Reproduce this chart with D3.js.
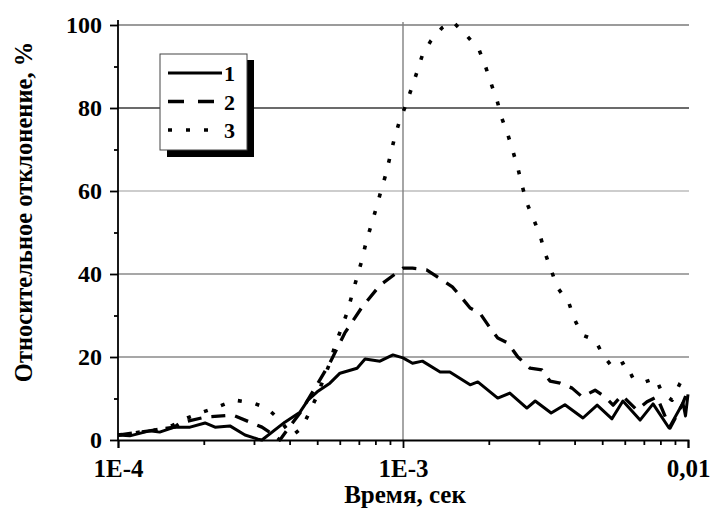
<!DOCTYPE html>
<html>
<head>
<meta charset="utf-8">
<script src="https://cdn.jsdelivr.net/npm/d3@7"></script>
<style>
  body { margin: 0; background: #fff; }
  text { font-family: "Liberation Serif", "Times New Roman", serif; font-weight: bold; fill: #000; }
</style>
</head>
<body>
<div id="chart"></div>
<script>
// Time (s) and relative deviation (%) for each curve
const time1 = [1.00e-4, 1.10e-4, 1.29e-4, 1.40e-4, 1.58e-4, 1.79e-4, 2.02e-4, 2.19e-4, 2.47e-4, 2.79e-4, 3.10e-4, 3.20e-4, 3.85e-4, 4.35e-4, 4.64e-4, 5.00e-4, 5.54e-4, 6.01e-4, 6.90e-4, 7.36e-4, 8.30e-4, 9.22e-4, 1.00e-3, 1.08e-3, 1.17e-3, 1.35e-3, 1.46e-3, 1.72e-3, 1.83e-3, 2.15e-3, 2.37e-3, 2.72e-3, 2.91e-3, 3.31e-3, 3.70e-3, 4.28e-3, 4.80e-3, 5.41e-3, 5.91e-3, 6.79e-3, 7.54e-3, 8.58e-3, 9.60e-3, 9.80e-3, 1.00e-2];
const dev1 = [1.2, 1.0, 2.2, 1.9, 3.1, 3.1, 4.1, 3.1, 3.4, 1.2, 0.2, 0, 4.3, 6.7, 9.6, 11.6, 13.7, 16.1, 17.3, 19.5, 19.0, 20.5, 19.8, 18.5, 19.0, 16.4, 16.4, 13.3, 14.0, 10.1, 11.3, 7.7, 9.4, 6.5, 8.5, 5.3, 8.4, 5.1, 9.4, 4.8, 8.7, 2.9, 8.9, 5.8, 11];

const time2 = [1.00e-4, 1.29e-4, 1.58e-4, 1.65e-4, 2.02e-4, 2.53e-4, 3.20e-4, 3.56e-4, 3.70e-4, 3.92e-4, 4.35e-4, 5.03e-4, 5.54e-4, 6.25e-4, 7.18e-4, 8.30e-4, 1.00e-3, 1.08e-3, 1.21e-3, 1.32e-3, 1.49e-3, 1.58e-3, 1.72e-3, 1.86e-3, 2.02e-3, 2.15e-3, 2.33e-3, 2.53e-3, 2.79e-3, 3.07e-3, 3.28e-3, 3.56e-3, 3.92e-3, 4.25e-3, 4.72e-3, 5.11e-3, 5.46e-3, 5.86e-3, 6.62e-3, 7.18e-3, 7.78e-3, 8.65e-3, 9.53e-3, 1.00e-2];
const dev2 = [1.2, 2.2, 3.1, 4.1, 5.5, 6.0, 3.1, 1.0, 0, 2.4, 6.5, 13.7, 18.6, 25.8, 32, 37.3, 41.4, 41.4, 41, 39.3, 36.9, 34.9, 31.8, 30.6, 27, 24.6, 23.4, 20, 17.3, 16.9, 14.2, 13.7, 12.5, 10.4, 12, 10.4, 8.4, 10.8, 7.2, 9.2, 10.4, 2.9, 8.4, 12];

const time3 = [1.00e-4, 1.29e-4, 1.49e-4, 1.72e-4, 1.94e-4, 2.24e-4, 2.57e-4, 2.98e-4, 3.33e-4, 3.70e-4, 4.08e-4, 4.42e-4, 4.68e-4, 4.99e-4, 5.54e-4, 5.77e-4, 6.06e-4, 6.36e-4, 6.62e-4, 6.90e-4, 7.18e-4, 7.41e-4, 7.72e-4, 8.04e-4, 8.37e-4, 8.71e-4, 9.00e-4, 9.30e-4, 9.68e-4, 1.02e-3, 1.07e-3, 1.12e-3, 1.17e-3, 1.25e-3, 1.37e-3, 1.50e-3, 1.68e-3, 1.85e-3, 1.95e-3, 2.04e-3, 2.14e-3, 2.22e-3, 2.33e-3, 2.43e-3, 2.53e-3, 2.62e-3, 2.72e-3, 2.88e-3, 3.03e-3, 3.15e-3, 3.31e-3, 3.47e-3, 3.82e-3, 4.01e-3, 4.25e-3, 4.72e-3, 5.03e-3, 5.46e-3, 6.01e-3, 6.41e-3, 7.06e-3, 7.72e-3, 8.11e-3, 8.79e-3, 9.38e-3, 1.00e-2];
const dev3 = [1.2, 2.2, 2.9, 5.1, 6.5, 8.0, 9.6, 8.9, 7.7, 4.8, 1.0, 2.9, 6.5, 10.6, 18.6, 22.7, 26.7, 30.6, 34.9, 39.3, 43.4, 47.5, 51.6, 55.7, 60, 64.1, 68.2, 72.3, 76.4, 80.5, 84.6, 88.7, 92.8, 96.1, 99.3, 100.7, 97.3, 94, 89.9, 85.8, 81.7, 77.6, 73.7, 69.6, 65.5, 61.2, 57.1, 53, 49.2, 45.1, 41, 36.9, 33, 28.9, 25.3, 24.1, 20.5, 17.3, 18.8, 14.9, 14, 14.9, 11.3, 9.6, 13.7, 16.1];

const seriesNames = ["1", "2", "3"];
const yTicks = [0, 20, 40, 60, 80, 100];
const yMinorTicks = [10, 30, 50, 70, 90];
const xTicks = [1e-4, 1e-3, 1e-2];
const xTickLabels = ["1E-4", "1E-3", "0,01"];
const xTitle = "Время, сек";
const yTitle = "Относительное отклонение, %";

// minor ticks 2..9 of each decade
const xMinorTicks = [1e-4, 1e-3].flatMap(d => [2, 3, 4, 5, 6, 7, 8, 9].map(k => k * d));

const series = [
  { name: seriesNames[0], values: time1.map((t, i) => [t, dev1[i]]) },
  { name: seriesNames[1], values: time2.map((t, i) => [t, dev2[i]]) },
  { name: seriesNames[2], values: time3.map((t, i) => [t, dev3[i]]) }
];
const lineStyles = [
  { dash: null, width: 3 },
  { dash: "14,10", width: 3.3 },
  { dash: "4,14", width: 3.6 }
];

const width = 711, height = 512;
const margin = { top: 25, right: 23, bottom: 72, left: 118 };
const plotW = width - margin.left - margin.right;
const plotH = height - margin.top - margin.bottom;

const svg = d3.select("#chart").append("svg")
  .attr("width", width)
  .attr("height", height);

const g = svg.append("g")
  .attr("transform", "translate(" + margin.left + "," + margin.top + ")");

const x = d3.scaleLog().domain([1e-4, 1e-2]).range([0, plotW]);
const y = d3.scaleLinear().domain([0, 100]).range([plotH, 0]);

// gridlines
const gridColor = { 20: "#8a8a8a", 40: "#8a8a8a", 60: "#bdbdbd", 80: "#3a3a3a", 100: "#7a7a7a" };
g.selectAll(".hgrid")
  .data(yTicks.filter(v => v > 0))
  .enter().append("line")
  .attr("x1", 0).attr("x2", plotW + 1)
  .attr("y1", d => y(d)).attr("y2", d => y(d))
  .attr("stroke", d => gridColor[d])
  .attr("stroke-width", 1.4);

g.append("line")
  .attr("x1", x(1e-3)).attr("x2", x(1e-3))
  .attr("y1", plotH).attr("y2", y(100) - 3)
  .attr("stroke", "#808080")
  .attr("stroke-width", 1.4);

// curves
const line = d3.line()
  .x(d => x(d[0]))
  .y(d => y(d[1]));

g.selectAll(".curve")
  .data(series)
  .enter().append("path")
  .attr("class", "curve")
  .attr("d", d => line(d.values))
  .attr("fill", "none")
  .attr("stroke", "#000")
  .attr("stroke-width", (d, i) => lineStyles[i].width)
  .attr("stroke-dasharray", (d, i) => lineStyles[i].dash)
  .attr("stroke-linejoin", "round");

// X axis
const xAxisMinor = g.append("g")
  .attr("transform", "translate(0," + plotH + ")")
  .call(d3.axisBottom(x).tickValues(xMinorTicks).tickSize(5).tickFormat(""));
xAxisMinor.select(".domain").remove();

const xAxis = g.append("g")
  .attr("transform", "translate(0," + plotH + ")")
  .call(d3.axisBottom(x).tickValues(xTicks).tickSize(8).tickPadding(11)
    .tickFormat((d, i) => xTickLabels[i]));
xAxis.selectAll("text").style("font-size", "25px");

// Y axis
const yAxisMinor = g.append("g")
  .call(d3.axisLeft(y).tickValues(yMinorTicks).tickSize(4).tickFormat(""));
yAxisMinor.select(".domain").remove();

const yAxis = g.append("g")
  .call(d3.axisLeft(y).tickValues(yTicks).tickSize(8).tickPadding(8));
yAxis.selectAll("text").style("font-size", "24px");
yAxis.select(".domain").attr("d", "M0," + plotH + "V-5");

svg.selectAll(".domain, .tick line").attr("stroke", "#000").attr("stroke-width", 1.8);

// axis titles
svg.append("text")
  .attr("x", margin.left + x(1e-3) + 2)
  .attr("y", 503)
  .attr("text-anchor", "middle")
  .style("font-size", "25px")
  .text(xTitle);

svg.append("text")
  .attr("transform", "translate(32,212) rotate(-90)")
  .attr("text-anchor", "middle")
  .style("font-size", "24.5px")
  .text(yTitle);

// legend
const legend = svg.append("g").attr("transform", "translate(160,54)");
legend.append("rect")
  .attr("x", 7).attr("y", 6)
  .attr("width", 87).attr("height", 97)
  .attr("fill", "#000");
legend.append("rect")
  .attr("x", 0).attr("y", 0)
  .attr("width", 87).attr("height", 96)
  .attr("fill", "#fff")
  .attr("stroke", "#444")
  .attr("stroke-width", 1);

const legendItems = legend.selectAll(".item")
  .data(series)
  .enter().append("g")
  .attr("transform", (d, i) => "translate(0," + (19 + i * 28.5) + ")");
legendItems.append("line")
  .attr("x1", 8).attr("x2", (d, i) => i === 2 ? 50 : 62)
  .attr("y1", 0).attr("y2", 0)
  .attr("stroke", "#000")
  .attr("stroke-width", (d, i) => lineStyles[i].width)
  .attr("stroke-dasharray", (d, i) => i === 1 ? "16,14" : lineStyles[i].dash);
legendItems.append("text")
  .attr("x", 64)
  .attr("y", 8)
  .style("font-size", "22px")
  .text(d => d.name);
</script>
</body>
</html>
